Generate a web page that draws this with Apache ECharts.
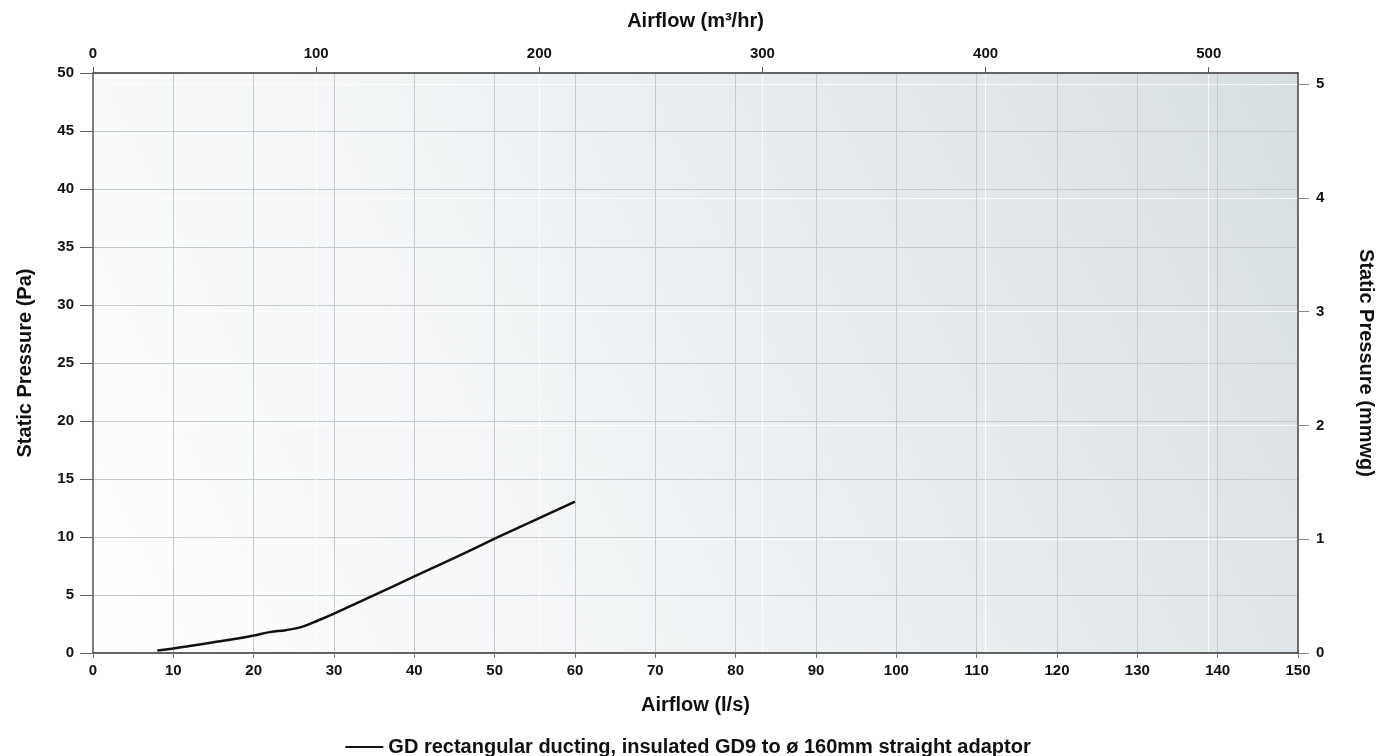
<!DOCTYPE html>
<html>
<head>
<meta charset="utf-8">
<script src="https://cdn.jsdelivr.net/npm/echarts@6/dist/echarts.min.js"></script>
<style>
html,body{margin:0;padding:0;background:#fff;}
#chart{width:1376px;height:756px;}
</style>
</head>
<body>
<div id="chart"></div>
<script>
// Airflow (l/s) values of the curve
var airflowLs = [8, 10, 12, 15, 18, 20, 22, 24, 26, 28, 30, 35, 40, 45, 50, 55, 60];
// Static pressure (Pa) values of the curve
var pressurePa = [0.22, 0.38, 0.6, 0.92, 1.25, 1.5, 1.8, 1.97, 2.25, 2.8, 3.4, 4.98, 6.6, 8.2, 9.85, 11.45, 13.05];
var seriesName = 'GD rectangular ducting, insulated GD9 to ø 160mm straight adaptor';
// axis ranges
var xMaxLs = 150;
var yMaxPa = 50;
var xMaxM3h = xMaxLs * 3.6;
var yMaxMmwg = yMaxPa / 9.80665;

var FONT = '"Liberation Sans", Arial, sans-serif';
var points = airflowLs.map(function (x, i) { return [x, pressurePa[i]]; });

var chart = echarts.init(document.getElementById('chart'));
var labelStyle = {color: '#111', fontFamily: FONT, fontWeight: 'bold', fontSize: 15};
var nameStyle = {color: '#111', fontFamily: FONT, fontWeight: 'bold', fontSize: 20};

chart.setOption({
  animation: false,
  backgroundColor: '#fff',
  grid: {
    left: 93, right: 78, top: 73, bottom: 103,
    outerBoundsMode: 'none',
    containLabel: false,
    show: true,
    borderWidth: 0,
    backgroundColor: {
      type: 'linear', x: 0, y: 1, x2: 1, y2: 0,
      colorStops: [
        {offset: 0, color: '#ffffff'},
        {offset: 0.5, color: '#edf0f2'},
        {offset: 1, color: '#d8dfe3'}
      ]
    }
  },
  legend: {
    top: 732,
    left: 'center',
    itemWidth: 38,
    itemHeight: 2,
    itemGap: 10,
    icon: 'rect',
    textStyle: {color: '#111', fontFamily: FONT, fontWeight: 'bold', fontSize: 20},
    data: [{name: seriesName, itemStyle: {color: '#111'}}]
  },
  xAxis: [
    {
      type: 'value', position: 'bottom', min: 0, max: xMaxLs, interval: 10,
      name: 'Airflow (l/s)', nameLocation: 'middle', nameGap: 42,
      nameTextStyle: nameStyle,
      axisLine: {show: true, onZero: false, lineStyle: {color: '#333', width: 1.5}},
      axisTick: {show: true, length: 5, lineStyle: {color: '#777'}},
      axisLabel: Object.assign({margin: 10}, labelStyle),
      splitLine: {show: true, lineStyle: {color: '#c6cacc', width: 1}}
    },
    {
      type: 'value', position: 'top', min: 0, max: xMaxM3h, interval: 100,
      name: 'Airflow (m³/hr)', nameLocation: 'middle', nameGap: 42,
      nameTextStyle: nameStyle,
      axisLine: {show: true, onZero: false, lineStyle: {color: '#333', width: 1.5}},
      axisTick: {show: true, length: 6, lineStyle: {color: '#555'}},
      axisLabel: Object.assign({margin: 12, showMaxLabel: false}, labelStyle),
      splitLine: {show: true, lineStyle: {color: 'rgba(255,255,255,0.8)', width: 1}}
    }
  ],
  yAxis: [
    {
      type: 'value', position: 'left', min: 0, max: yMaxPa, interval: 5,
      name: 'Static Pressure (Pa)', nameLocation: 'middle', nameGap: 58, nameRotate: 90,
      nameTextStyle: nameStyle,
      axisLine: {show: true, onZero: false, lineStyle: {color: '#555', width: 1.5}},
      axisTick: {show: true, length: 13, lineStyle: {color: '#666'}},
      axisLabel: Object.assign({margin: 19}, labelStyle),
      splitLine: {show: true, lineStyle: {color: '#c6cacc', width: 1}}
    },
    {
      type: 'value', position: 'right', min: 0, max: yMaxMmwg, interval: 1,
      name: 'Static Pressure (mmwg)', nameLocation: 'middle', nameGap: 58, nameRotate: -90,
      nameTextStyle: nameStyle,
      axisLine: {show: true, onZero: false, lineStyle: {color: '#444', width: 1.5}},
      axisTick: {show: true, length: 11, lineStyle: {color: '#888'}},
      axisLabel: Object.assign({margin: 18, showMaxLabel: false}, labelStyle),
      splitLine: {show: true, lineStyle: {color: 'rgba(255,255,255,0.8)', width: 1}}
    }
  ],
  series: [{
    name: seriesName,
    type: 'line',
    xAxisIndex: 0, yAxisIndex: 0,
    data: points,
    smooth: 0.4,
    showSymbol: false,
    lineStyle: {color: '#111', width: 2.5},
    itemStyle: {color: '#111'}
  }]
});
</script>
</body>
</html>
